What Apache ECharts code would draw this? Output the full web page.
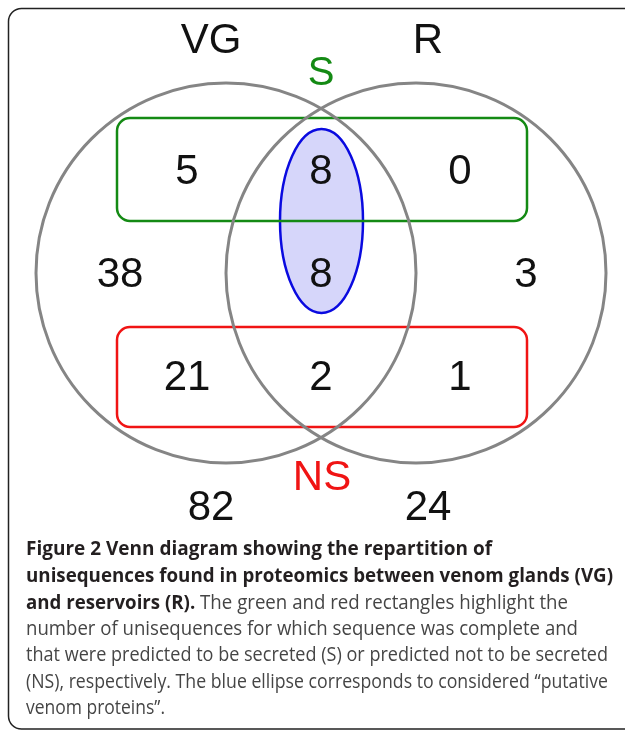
<!DOCTYPE html>
<html><head><meta charset="utf-8">
<script src="https://cdn.jsdelivr.net/npm/echarts@6/dist/echarts.min.js"></script>
<style>html,body{margin:0;padding:0;background:#fff}#c{width:625px;height:730px}</style>
</head><body><div id="c"></div>
<script>
// ---------- data ----------
const setLabels = ['VG', 'R'];
const groupLabels = ['S', 'NS'];
// rows: secreted (S), other, not secreted (NS)
const vgOnly = [5, 38, 21];
const shared = [8, 8, 2];
const rOnly = [0, 3, 1];
const setTotals = [82, 24];
const captionLines = [
  ['Figure 2 Venn diagram showing the repartition of', ''],
  ['unisequences found in proteomics between venom glands (VG)', ''],
  ['and reservoirs (R).', ' The green and red rectangles highlight the'],
  ['', 'number of unisequences for which sequence was complete and'],
  ['', 'that were predicted to be secreted (S) or predicted not to be secreted'],
  ['', '(NS), respectively. The blue ellipse corresponds to considered \u201cputative'],
  ['', 'venom proteins\u201d.']
];

// ---------- layout (axis units = pixels) ----------
const layout = {
  circleX: [226, 416], circleY: 273, circleR: 190,
  setLabelX: [211, 428], setLabelY: 41,
  colX: [[187, 321, 460], [120, 321, 526], [187, 321, 460]], rowY: [172, 275, 378],
  rectX: [117, 527], rectY: [[118, 221], [327, 427]], rectR: 13,
  groupLabelPos: [[321, 74], [322, 478]],
  ellipse: [321.5, 221, 41.5, 92],
  totalsY: 508,
  captionLeft: 26,
  captionRight: [492, 613, 568, 578, 608, 608, 165],
  captionBase: [557, 584, 611, 637, 663, 690, 716]
};
const GREEN = '#148a14', RED = '#f01414', BLUE = '#0a0ae0';
const groupColors = [GREEN, RED];
const NUM_FONT = '"Liberation Sans", Arial, sans-serif';

const counts = [];
[vgOnly, shared, rOnly].forEach((col, c) => col.forEach((v, r) => counts.push([layout.colX[r][c], layout.rowY[r], v, '#111', 42])));
setTotals.forEach((v, i) => counts.push([layout.setLabelX[i], layout.totalsY, v, '#111', 42]));
const labels = [];
setLabels.forEach((s, i) => labels.push([layout.setLabelX[i], layout.setLabelY, s, '#111', 42]));
groupLabels.forEach((s, i) => labels.push([layout.groupLabelPos[i][0], layout.groupLabelPos[i][1], s, groupColors[i], i === 0 ? 40 : 42]));

function textItem(params, api) {
  const c = api.coord([api.value(0), api.value(1)]);
  return {type: 'text', x: c[0], y: c[1], style: {
    text: String(api.value(2)), fill: api.value(3), fontSize: api.value(4), fontFamily: NUM_FONT,
    align: 'center', verticalAlign: 'middle'}};
}

// caption scaling
const FS = 19.5, CFONT = '"Open Sans", "Noto Sans", sans-serif';
const ctx = document.createElement('canvas').getContext('2d');
function mw(t, bold) { ctx.font = (bold ? 'bold ' : '') + FS + 'px ' + CFONT; return ctx.measureText(t).width; }
const captionGraphics = captionLines.map((ln, i) => {
  const w = (ln[0] ? mw(ln[0], true) : 0) + (ln[1] ? mw(ln[1], false) : 0);
  const target = layout.captionRight[i] - layout.captionLeft;
  let txt = '';
  if (ln[0]) txt += '{b|' + ln[0] + '}';
  if (ln[1]) txt += '{r|' + ln[1] + '}';
  return {type: 'text', x: layout.captionLeft, y: layout.captionBase[i] - 0.388 * FS, scaleX: target / w,
    style: {text: txt, align: 'left', verticalAlign: 'middle',
      rich: {b: {fontFamily: CFONT, fontSize: FS, fontWeight: 'bold', fill: '#231f20'},
             r: {fontFamily: CFONT, fontSize: FS, fill: '#454545'}}}};
});

const chart = echarts.init(document.getElementById('c'));
chart.setOption({
  animation: false,
  grid: {left: 0, right: 0, top: 0, bottom: 0},
  xAxis: {type: 'value', min: 0, max: 625, show: false},
  yAxis: {type: 'value', min: 0, max: 730, inverse: true, show: false},
  graphic: [{type: 'rect', shape: {x: 8.5, y: 8.5, width: 800, height: 720.5, r: 13},
    style: {fill: 'none', stroke: '#222', lineWidth: 1.5}}].concat(captionGraphics),
  series: [
    {type: 'custom', name: 'putative', z: 1, data: [layout.ellipse],
     renderItem: (p, api) => {
       const c = api.coord([api.value(0), api.value(1)]);
       const s = api.size([api.value(2), api.value(3)]);
       const rx = s[0], ry = s[1];
       const d = `M ${c[0]-rx} ${c[1]} A ${rx} ${ry} 0 1 0 ${c[0]+rx} ${c[1]} A ${rx} ${ry} 0 1 0 ${c[0]-rx} ${c[1]} Z`;
       return {type: 'path', shape: {pathData: d}, style: {fill: '#d6d6fa', stroke: BLUE, lineWidth: 2.5}};
     }},
    {type: 'custom', name: 'groups', z: 2,
     data: layout.rectY.map((y, i) => [layout.rectX[0], y[0], layout.rectX[1], y[1], i]),
     renderItem: (p, api) => {
       const a = api.coord([api.value(0), api.value(1)]), b = api.coord([api.value(2), api.value(3)]);
       return {type: 'rect', shape: {x: a[0], y: a[1], width: b[0]-a[0], height: b[1]-a[1], r: layout.rectR},
         style: {fill: 'none', stroke: groupColors[api.value(4)], lineWidth: 2.5}};
     }},
    {type: 'custom', name: 'sets', z: 3,
     data: setLabels.map((s, i) => [layout.circleX[i], layout.circleY, layout.circleR]),
     renderItem: (p, api) => {
       const c = api.coord([api.value(0), api.value(1)]);
       const r = api.size([api.value(2), api.value(2)])[0];
       return {type: 'circle', shape: {cx: c[0], cy: c[1], r: r}, style: {fill: 'none', stroke: '#858585', lineWidth: 3}};
     }},
    {type: 'custom', name: 'counts', z: 4, data: counts, renderItem: textItem},
    {type: 'custom', name: 'labels', z: 4, data: labels, renderItem: textItem}
  ]
});
</script></body></html>
